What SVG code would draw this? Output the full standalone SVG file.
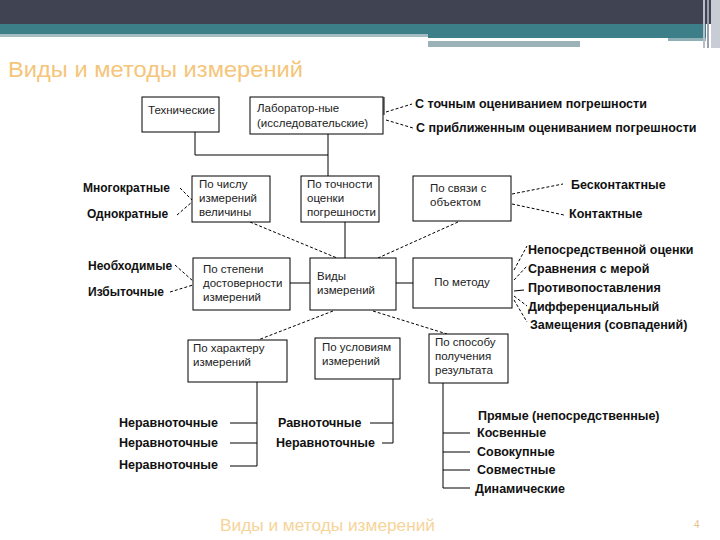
<svg xmlns="http://www.w3.org/2000/svg" width="720" height="540" viewBox="0 0 720 540">
<style>
.box{fill:#fff;stroke:#000;stroke-width:1}
.bt{font-family:"Liberation Sans",Arial,sans-serif;font-size:11.5px;fill:#222}
.lb{font-family:"Liberation Sans",Arial,sans-serif;font-size:12px;font-weight:bold;fill:#111}
.lb2{font-family:"Liberation Sans",Arial,sans-serif;font-size:12.5px;font-weight:bold;fill:#111}
.ln{stroke:#000;stroke-width:1;fill:none}
.ds{stroke:#000;stroke-width:1;fill:none;stroke-dasharray:3,2}
.hd{font-family:"Liberation Sans Narrow","Liberation Sans",Arial,sans-serif;fill:#f5c57a}
</style>
<rect x="0" y="0" width="720" height="540" fill="#fff"/>
<g id="header">
<rect x="0" y="0" width="720" height="24" fill="#3f4352"/>
<rect x="0" y="24" width="706" height="10" fill="#3d7f89"/>
<rect x="0" y="34" width="428" height="3" fill="#a3bcc2"/>
<rect x="428" y="34" width="278" height="4" fill="#3d7f89"/>
<rect x="428" y="38" width="240" height="3" fill="#ffffff"/>
<rect x="668" y="38" width="38" height="3" fill="#8fb0b6"/>
<rect x="428" y="41" width="152" height="6" fill="#9bb3b8"/>
<rect x="703" y="0" width="2" height="48" fill="#b9bec8"/>
<rect x="707" y="0" width="2" height="48" fill="#9aa0ad"/>
<rect x="711" y="0" width="9" height="48" fill="#c8ccd4"/>
<text class="hd" x="8" y="77" font-size="22" textLength="295" lengthAdjust="spacingAndGlyphs">Виды и методы измерений</text>
</g>
<g id="connectors">
<polyline class="ln" points="195,132 195,155 328,155 328,134"/>
<line class="ln" x1="328" y1="155" x2="328" y2="176"/>
<line class="ln" x1="384" y1="97" x2="384" y2="115"/>
<line class="ds" x1="386" y1="112" x2="412" y2="104"/>
<line class="ds" x1="386" y1="120" x2="413" y2="128"/>
<line class="ds" x1="180" y1="188" x2="192" y2="200"/>
<line class="ds" x1="177" y1="215" x2="192" y2="202"/>
<line class="ds" x1="512" y1="194" x2="563" y2="184"/>
<line class="ds" x1="512" y1="204" x2="564" y2="215"/>
<line class="ds" x1="250" y1="222" x2="337" y2="258"/>
<line class="ln" x1="345" y1="222" x2="345" y2="258"/>
<line class="ds" x1="458" y1="222" x2="378" y2="258"/>
<line class="ln" x1="290" y1="283" x2="310" y2="283"/>
<line class="ln" x1="396" y1="283" x2="413" y2="283"/>
<line class="ds" x1="175" y1="265" x2="193" y2="281"/>
<line class="ds" x1="170" y1="292" x2="193" y2="285"/>
<line class="ds" x1="514" y1="270" x2="527" y2="246"/>
<line class="ds" x1="514" y1="280" x2="527" y2="266"/>
<line class="ln" x1="514" y1="291" x2="524" y2="290"/>
<line class="ds" x1="514" y1="296" x2="527" y2="306"/>
<line class="ds" x1="514" y1="300" x2="527" y2="322"/>
<line class="ds" x1="333" y1="311" x2="258" y2="340"/>
<line class="ds" x1="373" y1="311" x2="447" y2="334"/>
<polyline class="ln" points="257,382 257,466 230,466"/>
<line class="ln" x1="230" y1="423" x2="257" y2="423"/>
<line class="ln" x1="230" y1="443" x2="257" y2="443"/>
<polyline class="ln" points="393,379 393,443 382,443"/>
<line class="ln" x1="370" y1="423" x2="393" y2="423"/>
<polyline class="ln" points="443,383 443,488 470,488"/>
<line class="ln" x1="443" y1="433" x2="470" y2="433"/>
<line class="ln" x1="443" y1="452" x2="470" y2="452"/>
<line class="ln" x1="443" y1="470" x2="470" y2="470"/>
</g>
<g id="n-tech"><rect class="box" x="142" y="97" width="77" height="35"/><text class="bt" x="148" y="114">Технические</text></g>
<g id="n-lab"><rect class="box" x="250" y="97" width="133" height="37"/><text class="bt" x="257" y="112">Лаборатор-ные</text><text class="bt" x="257" y="127">(исследовательские)</text></g>
<g id="n-chislo"><rect class="box" x="192" y="176" width="78" height="46"/><text class="bt" x="199" y="188">По числу</text><text class="bt" x="199" y="202">измерений</text><text class="bt" x="199" y="216">величины</text></g>
<g id="n-tochn"><rect class="box" x="301" y="176" width="78" height="46"/><text class="bt" x="307" y="188">По точности</text><text class="bt" x="307" y="202">оценки</text><text class="bt" x="307" y="216">погрешности</text></g>
<g id="n-svyaz"><rect class="box" x="413" y="176" width="98" height="45"/><text class="bt" x="430" y="192">По связи с</text><text class="bt" x="430" y="206">объектом</text></g>
<g id="n-stepen"><rect class="box" x="193" y="258" width="97" height="52"/><text class="bt" x="203" y="273">По степени</text><text class="bt" x="203" y="287">достоверности</text><text class="bt" x="203" y="301">измерений</text></g>
<g id="n-vidy"><rect class="box" x="310" y="258" width="86" height="52"/><text class="bt" x="317" y="280">Виды</text><text class="bt" x="317" y="294">измерений</text></g>
<g id="n-metod"><rect class="box" x="413" y="258" width="99" height="50"/><text class="bt" x="462" y="286" text-anchor="middle">По методу</text></g>
<g id="n-harakter"><rect class="box" x="188" y="340" width="99" height="42"/><text class="bt" x="193" y="352">По характеру</text><text class="bt" x="193" y="366">измерений</text></g>
<g id="n-usloviya"><rect class="box" x="315" y="338" width="85" height="41"/><text class="bt" x="322" y="351">По условиям</text><text class="bt" x="322" y="365">измерений</text></g>
<g id="n-sposob"><rect class="box" x="429" y="334" width="79" height="49"/><text class="bt" x="435" y="346">По способу</text><text class="bt" x="435" y="360">получения</text><text class="bt" x="435" y="374">результата</text></g>
<g id="labels">
<text class="lb2" x="415" y="108">С точным оцениванием погрешности</text>
<text class="lb2" x="416" y="132">С приближенным оцениванием погрешности</text>
<text class="lb" x="83" y="192">Многократные</text>
<text class="lb" x="87" y="218">Однократные</text>
<text class="lb2" x="571" y="189">Бесконтактные</text>
<text class="lb2" x="569" y="218">Контактные</text>
<text class="lb" x="88" y="270">Необходимые</text>
<text class="lb" x="88" y="296">Избыточные</text>
<text class="lb2" x="528" y="254">Непосредственной оценки</text>
<text class="lb2" x="528" y="273">Сравнения с мерой</text>
<text class="lb2" x="528" y="292">Противопоставления</text>
<text class="lb2" x="528" y="311">Дифференциальный</text>
<text class="lb2" x="530" y="329">Замещения (совпадений)</text>
<text class="lb2" x="119" y="427">Неравноточные</text>
<text class="lb2" x="119" y="447">Неравноточные</text>
<text class="lb2" x="119" y="469">Неравноточные</text>
<text class="lb2" x="278" y="427">Равноточные</text>
<text class="lb2" x="276" y="447">Неравноточные</text>
<text class="lb2" x="478" y="420">Прямые (непосредственные)</text>
<text class="lb2" x="477" y="437">Косвенные</text>
<text class="lb2" x="477" y="456">Совокупные</text>
<text class="lb2" x="477" y="474">Совместные</text>
<text class="lb2" x="475" y="493">Динамические</text>
</g>
<g id="footer">
<text class="hd" x="220" y="531" font-size="16" style="fill:#f6d49a" textLength="215" lengthAdjust="spacingAndGlyphs">Виды и методы измерений</text>
<text class="hd" x="694" y="528" font-size="10" style="fill:#e8c08a">4</text>
</g>
</svg>
